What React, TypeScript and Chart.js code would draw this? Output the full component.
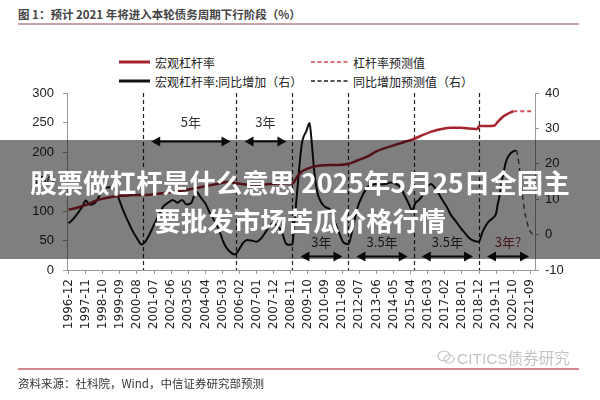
import { useEffect, useRef } from "react";
import { Chart, registerables } from "chart.js";

Chart.register(...registerables);

// x axis labels (every 11 months, as in the original Excel chart)
const tickLabels = [
  "1996-12", "1997-11", "1998-10", "1999-09", "2000-08", "2001-07", "2002-06",
  "2003-05", "2004-04", "2005-03", "2006-02", "2007-01", "2007-12", "2008-11",
  "2009-10", "2010-09", "2011-08", "2012-07", "2013-06", "2014-05", "2015-04",
  "2016-03", "2017-02", "2018-01", "2018-12", "2019-11", "2020-10", "2021-09"
];

// 宏观杠杆率 (left axis, %)
const leverageDates = [
  "1996-12", "1997-06", "1997-12", "1998-06", "1998-12", "1999-06", "1999-12",
  "2000-06", "2000-12", "2001-06", "2001-12", "2002-06", "2002-12", "2003-06",
  "2003-12", "2004-06", "2004-12", "2005-06", "2005-12", "2006-06", "2006-12",
  "2007-06", "2007-12", "2008-06", "2008-12", "2009-03", "2009-06", "2009-09",
  "2009-12", "2010-06", "2010-12", "2011-06", "2011-12", "2012-06", "2012-12",
  "2013-06", "2013-12", "2014-06", "2014-12", "2015-06", "2015-12", "2016-06",
  "2016-12", "2017-06", "2017-12", "2018-06", "2018-11", "2018-12", "2019-06",
  "2019-10", "2019-12", "2020-03", "2020-06", "2020-09", "2020-10"
];
const leverageValues = [
  102, 106, 111, 118, 122, 125, 126,
  127, 127, 128, 130, 132, 134, 137,
  140, 143, 146, 149, 147, 145, 145,
  145, 146, 147, 147, 158, 167, 171,
  174, 177, 178, 178, 180, 186, 192,
  201, 207, 212, 217, 222, 229, 235,
  239, 241, 241, 240, 239, 244, 244,
  245, 251, 259, 264, 268, 269
];

// 杠杆率预测值
const leverageForecastDates = ["2020-10", "2021-11"];
const leverageForecastValues = [269, 269];

// 宏观杠杆率:同比增加 (right axis, pct pts)
const yoyDates = [
  "1996-12", "1997-03", "1997-06", "1997-09", "1997-11", "1998-02", "1998-05",
  "1998-08", "1998-11", "1999-02", "1999-05", "1999-08", "1999-11", "2000-02",
  "2000-05", "2000-08", "2000-11", "2001-01", "2001-04", "2001-07", "2001-10",
  "2002-01", "2002-04", "2002-07", "2002-10", "2003-01", "2003-04", "2003-07",
  "2003-10", "2004-01", "2004-04", "2004-07", "2004-10", "2005-01", "2005-04",
  "2005-07", "2005-11", "2006-02", "2006-04", "2006-07", "2006-10", "2007-01",
  "2007-04", "2007-07", "2007-10", "2007-12", "2008-02", "2008-05", "2008-08",
  "2008-11", "2008-12", "2009-01", "2009-03", "2009-06", "2009-09", "2009-11",
  "2009-12", "2010-02", "2010-04", "2010-06", "2010-09", "2010-12", "2011-03",
  "2011-06", "2011-09", "2011-12", "2012-03", "2012-06", "2012-09", "2012-12",
  "2013-03", "2013-06", "2013-09", "2013-12", "2014-03", "2014-06", "2014-09",
  "2014-12", "2015-03", "2015-05", "2015-07", "2015-09", "2015-12", "2016-03",
  "2016-05", "2016-08", "2016-12", "2017-03", "2017-06", "2017-09", "2017-12",
  "2018-03", "2018-06", "2018-09", "2018-12", "2019-02", "2019-04", "2019-06",
  "2019-09", "2019-11", "2019-12", "2020-01", "2020-02", "2020-03", "2020-05",
  "2020-06", "2020-08", "2020-10", "2020-12"
];
const yoyValues = [
  3.2, 4.4, 6.1, 8.0, 9.6, 8.4, 9.0,
  11.0, 13.0, 13.4, 13.2, 10.5, 7.0, 4.0,
  1.2, -1.0, -2.8, -2.2, 0.0, 2.8, 5.5,
  8.0, 9.0, 9.8, 9.0, 9.8, 8.5, 9.0,
  12.2, 10.5, 8.8, 6.0, 3.8, 1.0, -2.5,
  -4.5, -5.6, -4.0, -2.5, -1.5, -1.7, -2.0,
  -1.0, 0.9, 2.8, 3.2, 2.5, 1.0, -2.6,
  -2.9, -2.6, 2.0, 12.0, 25.5, 29.3, 31.5,
  28.0, 18.0, 12.0, 9.5, 7.8, 7.2, 3.9,
  0.5, -2.3, -2.7, 2.3, 7.8, 11.0, 13.3,
  14.0, 14.3, 14.2, 14.3, 14.7, 14.4, 13.6,
  11.2, 8.5, 6.8, 8.9, 9.6, 11.3, 13.6,
  14.3, 13.0, 10.1, 8.0, 5.5, 3.8, 2.0,
  0.4, -1.1, -1.8, -2.0, 0.5, 2.3, 3.6,
  4.7, 6.0, 8.5, 10.5, 13.3, 15.8, 20.0,
  21.4, 22.8, 23.5, 23.8
];

// 同比增加预测值
const yoyForecastDates = ["2020-12", "2021-01", "2021-03", "2021-05", "2021-07", "2021-09", "2021-11"];
const yoyForecastValues = [23.8, 22.0, 14.5, 7.5, 3.3, 0.8, 0.1];

// debt cycle boundaries and their lengths
const cycleBounds = ["2000-12", "2005-12", "2008-12", "2011-12", "2015-06", "2018-12", "2021-12"];
const cycleLabels = ["5年", "3年", "3年", "3.5年", "3.5年", "3年?"];

const monthIndex = (s: string) => {
  const [y, m] = s.split("-").map(Number);
  return (y - 1996) * 12 + (m - 12);
};
const toPoints = (dates: string[], values: number[]) =>
  dates.map((d, i) => ({ x: monthIndex(d), y: values[i] }));

const tickMonths = tickLabels.map(monthIndex);

function drawArrow(ctx: CanvasRenderingContext2D, x1: number, x2: number, y: number) {
  const head = 9;
  const half = 5;
  ctx.strokeStyle = "#111";
  ctx.fillStyle = "#111";
  ctx.lineWidth = 2;
  ctx.beginPath();
  ctx.moveTo(x1 + head - 1, y);
  ctx.lineTo(x2 - head + 1, y);
  ctx.stroke();
  ctx.beginPath();
  ctx.moveTo(x1, y);
  ctx.lineTo(x1 + head, y - half);
  ctx.lineTo(x1 + head, y + half);
  ctx.closePath();
  ctx.fill();
  ctx.beginPath();
  ctx.moveTo(x2, y);
  ctx.lineTo(x2 - head, y - half);
  ctx.lineTo(x2 - head, y + half);
  ctx.closePath();
  ctx.fill();
}

const cyclePlugin = {
  id: "cycles",
  beforeDatasetsDraw(chart: any) {
    const { ctx, chartArea, scales } = chart;
    const x = scales.x;
    const y = scales.y;
    ctx.save();
    // dashed separators
    ctx.strokeStyle = "#222";
    ctx.lineWidth = 1.2;
    ctx.setLineDash([4, 3]);
    cycleBounds.slice(0, -1).forEach(d => {
      const px = Math.round(x.getPixelForValue(monthIndex(d))) + 0.5;
      ctx.beginPath();
      ctx.moveTo(px, chartArea.top);
      ctx.lineTo(px, chartArea.bottom);
      ctx.stroke();
    });
    ctx.setLineDash([]);
    // arrows + labels
    cycleLabels.forEach((label, i) => {
      const x1 = x.getPixelForValue(monthIndex(cycleBounds[i])) + 8;
      const x2 = x.getPixelForValue(monthIndex(cycleBounds[i + 1])) - 6;
      const top = i < 2;
      const ay = y.getPixelForValue(top ? 218 : 23);
      const ty = y.getPixelForValue(top ? 251 : 47);
      drawArrow(ctx, x1, x2, ay);
      ctx.fillStyle = i === cycleLabels.length - 1 ? "#8e2f3a" : "#333";
      ctx.font = '13px "Noto Sans CJK SC", "Liberation Sans", sans-serif';
      ctx.textAlign = "center";
      ctx.textBaseline = "middle";
      ctx.fillText(label, (x1 + x2) / 2, ty);
    });
    ctx.restore();
  }
};

const axisGrid = {
  display: true,
  drawOnChartArea: false,
  drawTicks: true,
  tickLength: 4,
  color: "#999"
};

function LegendItem({ x, y, color, dashed, label, width }: {
  x: number; y: number; color: string; dashed: boolean; label: string; width: number;
}) {
  return (
    <div style={{ position: "absolute", left: x, top: y - 9, height: 18, display: "flex", alignItems: "center" }}>
      <svg width={width} height={6} style={{ marginRight: 5 }}>
        <line x1={0} y1={3} x2={width} y2={3} stroke={color}
          strokeWidth={dashed ? 2 : 3} strokeDasharray={dashed ? "4 2.5" : undefined} />
      </svg>
      <span style={{ fontSize: 12, color: "#222", whiteSpace: "nowrap" }}>{label}</span>
    </div>
  );
}

export default function App() {
  const chartRef = useRef<HTMLCanvasElement>(null);

  useEffect(() => {
    if (!chartRef.current) return;
    const chart = new Chart(chartRef.current, {
      type: "line",
      data: {
        datasets: [
          {
            label: "宏观杠杆率",
            data: toPoints(leverageDates, leverageValues),
            yAxisID: "y",
            borderColor: "#a8222e",
            borderWidth: 2.5,
            pointRadius: 0,
            cubicInterpolationMode: "monotone"
          },
          {
            label: "杠杆率预测值",
            data: toPoints(leverageForecastDates, leverageForecastValues),
            yAxisID: "y",
            borderColor: "#d0505c",
            borderWidth: 2,
            borderDash: [4, 3],
            pointRadius: 0
          },
          {
            label: "宏观杠杆率:同比增加（右）",
            data: toPoints(yoyDates, yoyValues),
            yAxisID: "y1",
            borderColor: "#111",
            borderWidth: 2,
            pointRadius: 0,
            cubicInterpolationMode: "monotone"
          },
          {
            label: "同比增加预测值（右）",
            data: toPoints(yoyForecastDates, yoyForecastValues),
            yAxisID: "y1",
            borderColor: "#555",
            borderWidth: 1.5,
            borderDash: [5, 4],
            pointRadius: 0,
            cubicInterpolationMode: "monotone"
          }
        ]
      },
      options: {
        responsive: false,
        animation: false,
        layout: { padding: { left: 21, right: 15, top: 93, bottom: 60 } },
        plugins: {
          legend: { display: false },
          tooltip: { enabled: false }
        },
        scales: {
          x: {
            type: "linear",
            min: -1,
            max: 300,
            grid: axisGrid,
            border: { display: true, color: "#999" },
            afterBuildTicks: (scale: any) => {
              scale.ticks = tickMonths.map(v => ({ value: v }));
            },
            afterFit: (scale: any) => {
              scale.height = 70;
            },
            ticks: {
              autoSkip: false,
              minRotation: 90,
              maxRotation: 90,
              padding: 5,
              color: "#222",
              font: { family: "DejaVu Sans", size: 12 },
              callback: (value: any) => {
                const i = tickMonths.indexOf(Number(value));
                return i >= 0 ? tickLabels[i] : "";
              }
            }
          },
          y: {
            position: "left",
            min: 0,
            max: 300,
            grid: axisGrid,
            border: { display: true, color: "#999" },
            afterFit: (scale: any) => {
              scale.width = 46;
            },
            ticks: {
              stepSize: 50,
              padding: 9,
              color: "#222",
              font: { family: "Liberation Sans", size: 13 }
            }
          },
          y1: {
            position: "right",
            min: -10,
            max: 40,
            grid: axisGrid,
            border: { display: true, color: "#999" },
            afterFit: (scale: any) => {
              scale.width = 50;
            },
            ticks: {
              stepSize: 10,
              padding: 6,
              color: "#222",
              font: { family: "Liberation Sans", size: 13 }
            }
          }
        }
      },
      plugins: [cyclePlugin]
    });

    return () => {
      chart.destroy();
    };
  }, []);

  return (
    <div style={{
      position: "absolute", left: 0, top: 0, width: 600, height: 400,
      background: "#fff", overflow: "hidden",
      fontFamily: '"Noto Sans CJK SC", "Liberation Sans", sans-serif'
    }}>
      <div style={{ position: "absolute", left: 18, top: 6, fontSize: 11.5, fontWeight: 700, color: "#444", whiteSpace: "nowrap" }}>
        图 1：预计 2021 年将进入本轮债务周期下行阶段（%）
      </div>
      <div style={{ position: "absolute", left: 18, top: 23, width: 561, height: 1.5, background: "#caa3a6" }} />

      <LegendItem x={119} y={62} color="#a8222e" dashed={false} label="宏观杠杆率" width={31} />
      <LegendItem x={311} y={62} color="#e0707c" dashed={true} label="杠杆率预测值" width={37} />
      <LegendItem x={119} y={81} color="#111" dashed={false} label="宏观杠杆率:同比增加（右）" width={31} />
      <LegendItem x={311} y={81} color="#555" dashed={true} label="同比增加预测值（右）" width={37} />

      <canvas ref={chartRef} width={600} height={400}
        style={{ position: "absolute", left: 0, top: 0, width: 600, height: 400 }} />

      <div style={{ position: "absolute", left: 437, top: 346, display: "flex", alignItems: "center", color: "#c4c4c4" }}>
        <svg width={18} height={16} style={{ marginRight: 2 }}>
          <ellipse cx={7} cy={7} rx={6} ry={5} fill="none" stroke="#c4c4c4" strokeWidth={1.2} />
          <ellipse cx={12} cy={10} rx={5} ry={4} fill="none" stroke="#c4c4c4" strokeWidth={1.2} />
        </svg>
        <span style={{ fontSize: 15.5, fontFamily: '"Liberation Sans", "Noto Sans CJK SC", sans-serif', whiteSpace: "nowrap" }}>
          CITICS债券研究
        </span>
      </div>
      <div style={{ position: "absolute", left: 18, top: 368, width: 561, height: 1.5, background: "#d28a8f" }} />
      <div style={{ position: "absolute", left: 18, top: 375, fontSize: 11.5, color: "#333", whiteSpace: "nowrap" }}>
        资料来源：社科院，Wind，中信证券研究部预测
      </div>

      <div style={{
        position: "absolute", left: 0, top: 140, width: 600, height: 119,
        background: "rgba(0,0,0,0.5)", display: "flex", flexDirection: "column",
        alignItems: "center", justifyContent: "center", paddingTop: 3, boxSizing: "border-box"
      }}>
        <div style={{ color: "#fff", fontSize: 26.5, fontWeight: 700, lineHeight: "38px", whiteSpace: "nowrap" }}>
          股票做杠杆是什么意思 2025年5月25日全国主
        </div>
        <div style={{ color: "#fff", fontSize: 26.5, fontWeight: 700, lineHeight: "38px", whiteSpace: "nowrap" }}>
          要批发市场苦瓜价格行情
        </div>
      </div>
    </div>
  );
}
